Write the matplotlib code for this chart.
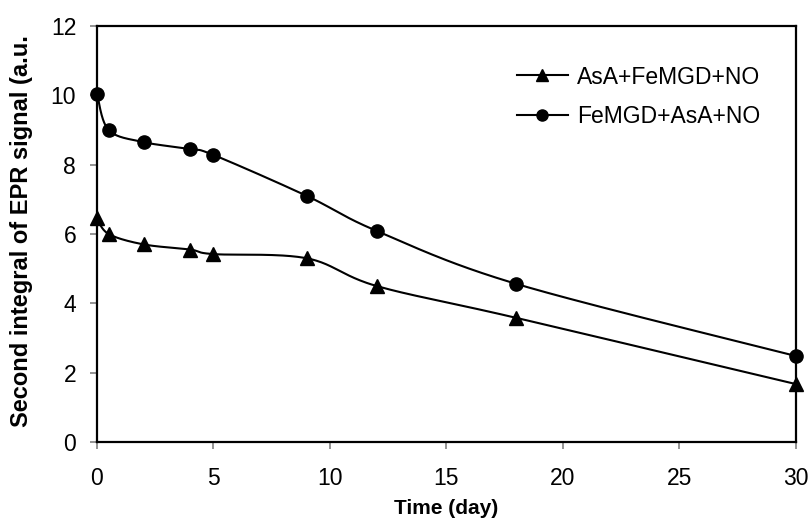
import numpy as np
import matplotlib
matplotlib.use("Agg")
import matplotlib.pyplot as plt
from matplotlib.lines import Line2D

plt.rcParams['font.family'] = ['Liberation Sans', 'DejaVu Sans']

days = [0, 0.5, 2, 4, 5, 9, 12, 18, 30]
asa_first = [6.45, 6.0, 5.7, 5.55, 5.42, 5.3, 4.5, 3.58, 1.67]
femgd_first = [10.05, 9.0, 8.65, 8.45, 8.28, 7.1, 6.09, 4.56, 2.48]
labels = ["AsA+FeMGD+NO", "FeMGD+AsA+NO"]
markers = ["^", "o"]


def smooth(x, y, n=40):
    x = np.asarray(x, float)
    y = np.asarray(y, float)
    P = np.column_stack([x, y])
    out = []
    m = len(P)
    for i in range(m - 1):
        p0 = P[i - 1] if i > 0 else P[i]
        p1 = P[i]
        p2 = P[i + 1]
        p3 = P[i + 2] if i + 2 < m else P[i + 1]
        c1 = p1 + (p2 - p0) / 6.0
        c2 = p2 - (p3 - p1) / 6.0
        t = np.linspace(0, 1, n)[:, None]
        seg = ((1 - t) ** 3) * p1 + 3 * ((1 - t) ** 2) * t * c1 + 3 * (1 - t) * t ** 2 * c2 + t ** 3 * p2
        out.append(seg if i == 0 else seg[1:])
    S = np.vstack(out)
    return S[:, 0], S[:, 1]


fig = plt.figure(figsize=(8.12, 5.19), dpi=100)
ax = fig.add_axes([97 / 812, 77 / 519, (796 - 97) / 812, (442 - 26) / 519])

handles = []
for ys, mk, lab in zip([asa_first, femgd_first], markers, labels):
    sx, sy = smooth(days, ys)
    ax.plot(sx, sy, color='black', lw=1.5, zorder=2, clip_on=False)
    ax.plot(days, ys, linestyle='none', marker=mk, color='black', ms=9.5, zorder=3, clip_on=False)
    handles.append(Line2D([0], [0], color='black', lw=1.5, marker=mk, ms=8))

ax.set_xlim(0, 30)
ax.set_ylim(0, 12)
ax.set_xticks(range(0, 31, 5))
ax.set_yticks(range(0, 13, 2))
ax.tick_params(axis='both', direction='out', length=5, width=1.2, color='#808080',
               labelsize=16.5, top=False, right=False)
ax.tick_params(axis='x', pad=13)
ax.tick_params(axis='y', pad=10)
for s in ax.spines.values():
    s.set_linewidth(1.6)
    s.set_color('black')

fig.text(446 / 812, 1 - 508 / 519, "Time (day)", fontsize=15, fontweight='bold',
         ha='center', va='center')
fig.text(22 / 812, 1 - 231 / 519, "Second integral of EPR signal (a.u.", rotation=90,
         fontsize=17, fontweight='bold', ha='center', va='center')

ax.legend(handles, labels, loc='upper left', bbox_to_anchor=(0.601, 0.905), frameon=False,
          fontsize=16.5, handlelength=2.2, handletextpad=0.43, labelspacing=0.72,
          borderaxespad=0, borderpad=0)

fig.savefig("out.png", dpi=100)
